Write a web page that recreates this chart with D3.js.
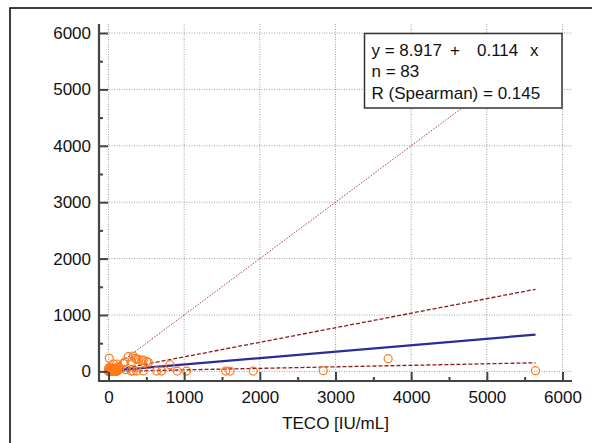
<!DOCTYPE html>
<html>
<head>
<meta charset="utf-8">
<script src="https://cdn.jsdelivr.net/npm/d3@7"></script>
<style>
  body { margin: 0; background: #fff; }
  text { font-family: "Liberation Sans", Arial, sans-serif; }
</style>
</head>
<body>
<svg id="chart" width="592" height="443"></svg>
<script>
// measured values, TECO (x) vs method (y)
const tecoValues = [
  10, 64, 108, 130, 196, 218, 262, 306, 328, 350, 372, 394, 438, 460, 504, 526,
  150, 230, 300, 328, 372, 460, 637, 703, 812, 909, 1033, 1548, 1605, 1913, 2838, 3696, 5643,
  0, 2, 5, 8, 10, 12, 15, 18, 20, 22, 25, 28, 30, 32, 35, 38, 40, 42, 45, 48,
  50, 52, 55, 58, 60, 62, 65, 68, 70, 72, 75, 78, 80, 82, 85, 88, 90, 92, 95, 98,
  100, 103, 106, 110, 113, 116, 120, 3, 7, 14
];
const methodValues = [
  232, 131, 131, 83, 143, 172, 261, 172, 273, 232, 214, 214, 190, 202, 172, 160,
  40, 30, 5, 8, 6, 8, 5, 5, 120, 5, 5, 5, 5, 5, 12, 225, 12,
  0, 5, 10, 0, 20, 3, 8, 30, 0, 12, 5, 40, 2, 15, 0, 25, 6, 50, 10, 0,
  18, 4, 35, 8, 0, 22, 5, 12, 60, 2, 28, 6, 15, 0, 40, 10, 4, 20, 0, 55,
  8, 30, 3, 14, 45, 5, 25, 60, 45, 70
];

// fitted lines: [intercept, slope]
const fitLine = [8.917, 0.114];
const upperLine = [0, 0.258];
const lowerLine = [0, 0.027];
const identityLine = [0, 1];

const tickValues = [0, 1000, 2000, 3000, 4000, 5000, 6000];
const minorTickValues = [500, 1500, 2500, 3500, 4500, 5500];
const equationParts = ["y = 8.917", "+", "0.114", "x"];
const statLines = ["n = 83", "R (Spearman) = 0.145"];
const xTitle = "TECO [IU/mL]";

const data = tecoValues.map((v, i) => ({ x: v, y: methodValues[i] }));
const xMax = d3.max(tecoValues);

const svg = d3.select("#chart");
svg.append("rect")
  .attr("x", 10).attr("y", 8)
  .attr("width", 600).attr("height", 460)
  .attr("fill", "#fff").attr("stroke", "#000").attr("stroke-width", 1.5);

// plot area bounds
const plot = { left: 99, right: 572, top: 24, bottom: 381 };

const x = d3.scaleLinear().domain([0, 6000]).range([108.5, 562.5]);
const y = d3.scaleLinear().domain([0, 6000]).range([371.4, 33]);

svg.append("clipPath").attr("id", "clip")
  .append("rect")
  .attr("x", plot.left).attr("y", plot.top)
  .attr("width", plot.right - plot.left).attr("height", plot.bottom - plot.top);

// grid
const grid = svg.append("g").attr("stroke", "#a0a0a0").attr("stroke-width", 1)
  .attr("stroke-dasharray", "1,1.5");
grid.selectAll("line.v").data(tickValues).enter().append("line")
  .attr("x1", (d) => x(d)).attr("x2", (d) => x(d))
  .attr("y1", plot.top).attr("y2", plot.bottom);
grid.selectAll("line.h").data(tickValues).enter().append("line")
  .attr("y1", (d) => y(d)).attr("y2", (d) => y(d))
  .attr("x1", plot.left).attr("x2", plot.right);

// lines
const inner = svg.append("g").attr("clip-path", "url(#clip)");
const drawLine = (coef, x0, x1, style) => {
  inner.append("line")
    .attr("x1", x(x0)).attr("y1", y(coef[0] + coef[1] * x0))
    .attr("x2", x(x1)).attr("y2", y(coef[0] + coef[1] * x1))
    .attr("stroke", style.color)
    .attr("stroke-width", style.width)
    .attr("stroke-dasharray", style.dash || null);
};
drawLine(identityLine, 0, 6000, { color: "#b03a48", width: 1, dash: "1.5,1.5" });
drawLine(upperLine, 0, xMax, { color: "#8b1a1a", width: 1.3, dash: "4,2" });
drawLine(lowerLine, 0, xMax, { color: "#8b1a1a", width: 1.3, dash: "4,2" });
drawLine(fitLine, 0, xMax, { color: "#2b2b99", width: 2.2 });

// points
inner.selectAll("circle").data(data).enter().append("circle")
  .attr("cx", (d) => x(d.x)).attr("cy", (d) => y(d.y))
  .attr("r", 4)
  .attr("fill", "none")
  .attr("stroke", "#ff7a1a")
  .attr("stroke-width", 1.2);

// axes
const yAxis = svg.append("g").attr("transform", `translate(${plot.left},0)`)
  .call(d3.axisLeft(y).tickValues(tickValues).tickSize(-9).tickPadding(8).tickFormat(d3.format("d")));
const yMinor = svg.append("g").attr("transform", `translate(${plot.left},0)`)
  .call(d3.axisLeft(y).tickValues(minorTickValues).tickSize(-4).tickFormat(""));
const xAxis = svg.append("g").attr("transform", `translate(0,${plot.bottom})`)
  .call(d3.axisBottom(x).tickValues(tickValues).tickSize(-9).tickPadding(10).tickFormat(d3.format("d")));
const xMinor = svg.append("g").attr("transform", `translate(0,${plot.bottom})`)
  .call(d3.axisBottom(x).tickValues(minorTickValues).tickSize(-4).tickFormat(""));

[yAxis, yMinor, xAxis, xMinor].forEach((g) => {
  g.select(".domain").remove();
  g.selectAll(".tick line").attr("stroke", "#444").attr("stroke-width", 2);
  g.selectAll(".tick text").attr("font-size", 17).attr("fill", "#111")
    .attr("font-family", "'Liberation Sans', Arial, sans-serif");
});

svg.append("line")
  .attr("x1", plot.left).attr("x2", plot.left)
  .attr("y1", plot.top).attr("y2", plot.bottom + 1)
  .attr("stroke", "#444").attr("stroke-width", 2.2);
svg.append("line")
  .attr("x1", plot.left - 1).attr("x2", plot.right)
  .attr("y1", plot.bottom).attr("y2", plot.bottom)
  .attr("stroke", "#444").attr("stroke-width", 2.2);

svg.append("text")
  .attr("x", (plot.left + plot.right) / 2).attr("y", 429)
  .attr("text-anchor", "middle").attr("font-size", 17).attr("fill", "#111")
  .text(xTitle);

// stats box
const box = svg.append("g");
box.append("rect")
  .attr("x", 364.5).attr("y", 33.5).attr("width", 197.5).attr("height", 74.5)
  .attr("fill", "#fff").attr("stroke", "#333").attr("stroke-width", 1.5);
const eqX = [371.5, 450, 477, 530];
box.append("text")
  .attr("y", 55.5).attr("font-size", 17).attr("fill", "#111")
  .selectAll("tspan").data(equationParts).enter().append("tspan")
  .attr("x", (d, i) => eqX[i])
  .text((d) => d);
box.selectAll("text.stat").data(statLines).enter().append("text")
  .attr("class", "stat")
  .attr("x", 371.5).attr("y", (d, i) => 77 + i * 21.5)
  .attr("font-size", 17).attr("fill", "#111")
  .text((d) => d);
</script>
</body>
</html>
